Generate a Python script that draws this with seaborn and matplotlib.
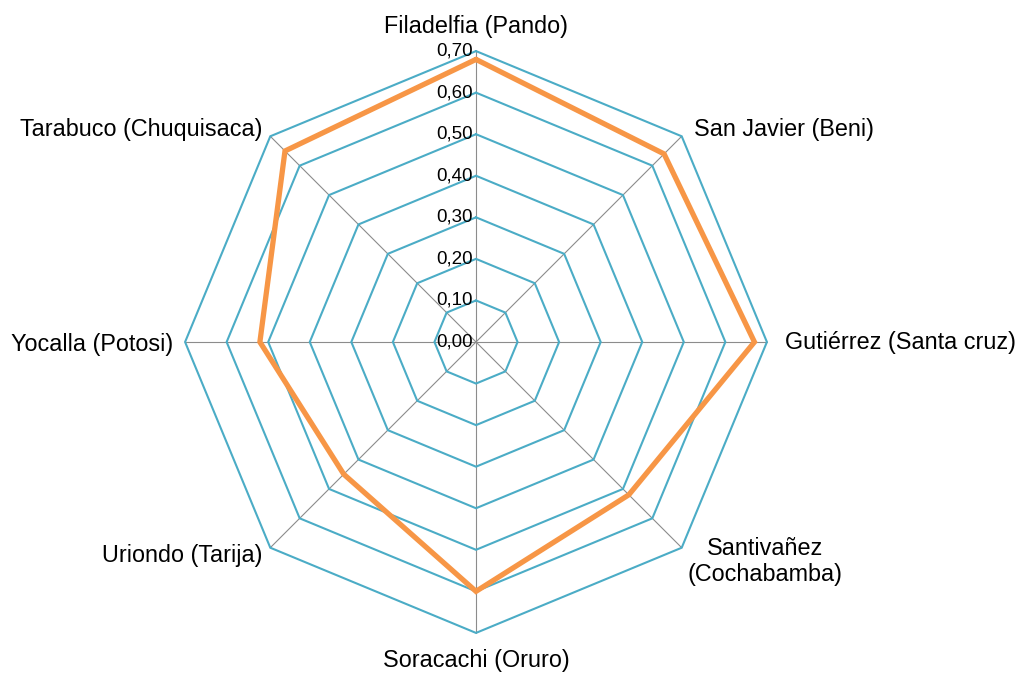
import numpy as np
import pandas as pd
import matplotlib
matplotlib.use("Agg")
import matplotlib.pyplot as plt
import seaborn as sns

categorias = [
    "Filadelfia (Pando)",
    "San Javier (Beni)",
    "Gutiérrez (Santa cruz)",
    "Santivañez\n(Cochabamba)",
    "Soracachi (Oruro)",
    "Uriondo (Tarija)",
    "Yocalla (Potosi)",
    "Tarabuco (Chuquisaca)",
]
valores = [0.68, 0.64, 0.67, 0.52, 0.60, 0.45, 0.52, 0.65]
niveles = [0.0, 0.1, 0.2, 0.3, 0.4, 0.5, 0.6, 0.7]
etiquetas_niveles = ["0,00", "0,10", "0,20", "0,30", "0,40", "0,50", "0,60", "0,70"]

sns.set_style("white")
plt.rcParams["font.family"] = ["Liberation Sans", "DejaVu Sans"]

TEAL = "#4BACC6"
NARANJA = "#F79646"
GRIS = "#8C8C8C"

n = len(categorias)
ang = 2 * np.pi * np.arange(n) / n
seno, coseno = np.sin(ang), np.cos(ang)
rmax = max(niveles)

fig = plt.figure(figsize=(10.15, 6.73), dpi=100)
ax = fig.add_axes([0, 0, 1, 1])
# escala: 415.6 px por unidad, centro en (476, 342) px
esc = 415.6
ax.set_xlim(-476 / esc, (1015 - 476) / esc)
ax.set_ylim(-(673 - 342) / esc, 342 / esc)
ax.set_axis_off()

# ejes radiales
for s, c in zip(seno, coseno):
    ax.plot([0, rmax * s], [0, rmax * c], color=GRIS, lw=0.8, zorder=1)

# anillos octogonales
for r in niveles[1:]:
    xs = np.append(r * seno, r * seno[0])
    ys = np.append(r * coseno, r * coseno[0])
    ax.plot(xs, ys, color=TEAL, lw=1.5, zorder=2, solid_joinstyle="miter")

# serie (cerrada)
v = np.array(valores + valores[:1])
df = pd.DataFrame({"x": v * np.append(seno, seno[0]), "y": v * np.append(coseno, coseno[0])})
sns.lineplot(data=df, x="x", y="y", sort=False, estimator=None, color=NARANJA,
             lw=3.8, ax=ax, zorder=3)
ax.lines[-1].set_solid_joinstyle("miter")
ax.set_axis_off()

# etiquetas de nivel
for r, t in zip(niveles, etiquetas_niveles):
    ax.annotate(t, xy=(0, r), xytext=(-3, 0), textcoords="offset pixels",
                ha="right", va="center", fontsize=13.5, color="black", zorder=4)

# etiquetas de categoría
desplaz = [(0, 25, "center"), (12, 7, "left"), (18, 0, "left"), (83, -14, "center"),
           (0, -28, "center"), (-8, -8, "right"), (-12, -2, "right"), (-8, 7, "right")]
for i, cat in enumerate(categorias):
    dx, dy, ha = desplaz[i]
    ax.annotate(cat, xy=(rmax * seno[i], rmax * coseno[i]), xytext=(dx, dy),
                textcoords="offset pixels", ha=ha, va="center", fontsize=16.8,
                multialignment="center", color="black", linespacing=1.15)

plt.savefig("out.png", dpi=100)
